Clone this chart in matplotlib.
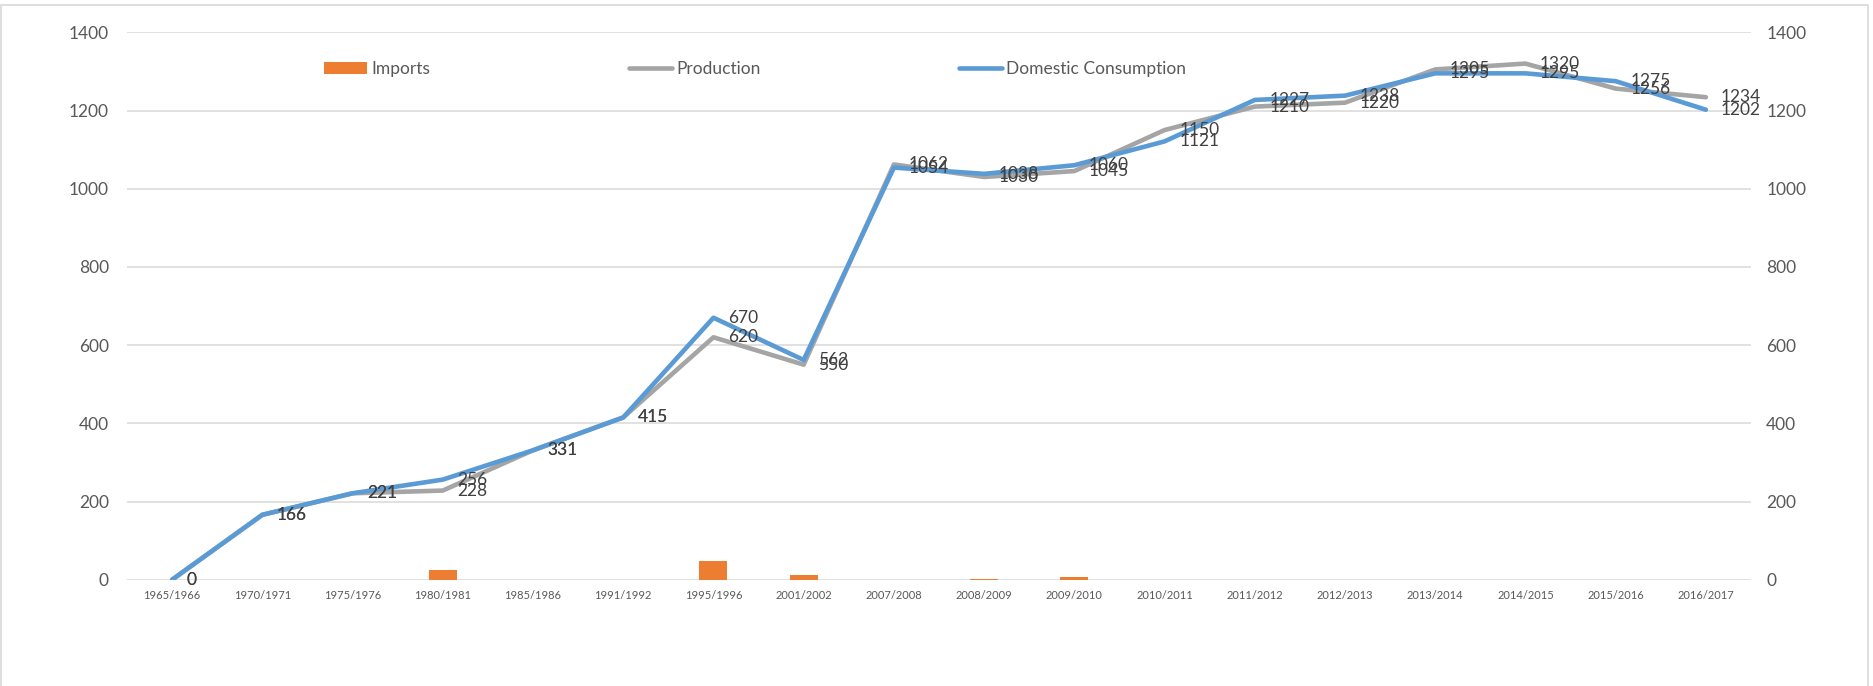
import matplotlib.pyplot as plt
from matplotlib.patches import Rectangle, Patch
from matplotlib.lines import Line2D

# Dados por safra
anos = ['1965/1966', '1970/1971', '1975/1976', '1980/1981', '1985/1986',
        '1991/1992', '1995/1996', '2001/2002', '2007/2008', '2008/2009',
        '2009/2010', '2010/2011', '2011/2012', '2012/2013', '2013/2014',
        '2014/2015', '2015/2016', '2016/2017']
importacao = [0, 0, 0, 26, 0, 0, 48, 11, 0, 3, 8, 0, 0, 0, 0, 0, 0, 0]
producao = [0, 166, 221, 228, 331, 415, 620, 550, 1062, 1030, 1045, 1150,
            1210, 1220, 1305, 1320, 1256, 1234]
consumo = [0, 166, 221, 256, 331, 415, 670, 562, 1054, 1038, 1060, 1121,
           1227, 1238, 1295, 1295, 1275, 1202]

cor_imp = '#ED7D31'
cor_prod = '#A5A5A5'
cor_cons = '#5B9BD5'
cor_grade = '#D9D9D9'
cor_eixo = '#595959'
cor_rotulo = '#404040'

plt.rcParams['font.family'] = ['Lato', 'DejaVu Sans']

W, H = 1874, 686
fig = plt.figure(figsize=(W / 100, H / 100), dpi=100)

# Moldura da área do gráfico
fig.patches.append(Rectangle((1 / W, -0.05), 1867 / W, 1.05 - 5 / H,
                             transform=fig.transFigure, fill=False,
                             edgecolor=cor_grade, linewidth=1.2))

ax = fig.add_axes([127 / W, 1 - 579.7 / H, 1624 / W, 547.4 / H])
x = list(range(len(anos)))

ax.bar(x, importacao, width=0.31, color=cor_imp, zorder=2)
ax.plot(x, producao, color=cor_prod, linewidth=3.3, zorder=3,
        solid_joinstyle='round', solid_capstyle='round')
ax.plot(x, consumo, color=cor_cons, linewidth=3.3, zorder=4,
        solid_joinstyle='round', solid_capstyle='round')

# Rótulos de dados à direita dos pontos
for serie in (producao, consumo):
    for i, v in enumerate(serie):
        ax.annotate(str(v), (i, v), xytext=(10.5, 0), textcoords='offset points',
                    ha='left', va='center', fontsize=12.5, color=cor_rotulo,
                    zorder=5)

ax.set_xlim(-0.5, len(anos) - 0.5)
ax.set_ylim(0, 1400)
ax.set_yticks(range(0, 1401, 200))
ax.set_xticks(x)
ax.set_xticklabels(anos, fontsize=8, color=cor_eixo)
ax.tick_params(axis='x', length=0, pad=7.5)
ax.tick_params(axis='y', length=0, pad=13, labelsize=12.5, labelcolor=cor_eixo)
ax.yaxis.grid(True, color=cor_grade, linewidth=1.1, zorder=0)
ax.set_axisbelow(True)
for s in ax.spines.values():
    s.set_visible(False)

ax2 = ax.twinx()
ax2.set_ylim(0, 1400)
ax2.set_yticks(range(0, 1401, 200))
ax2.tick_params(axis='y', length=0, pad=11, labelsize=12.5, labelcolor=cor_eixo)
for s in ax2.spines.values():
    s.set_visible(False)

handles = [
    Patch(facecolor=cor_imp, edgecolor='none'),
    Line2D([], [], color=cor_prod, linewidth=3.3, solid_capstyle='round'),
    Line2D([], [], color=cor_cons, linewidth=3.3, solid_capstyle='round'),
]
leg = fig.legend(handles, ['Imports', 'Production', 'Domestic Consumption'],
                 loc='center left', bbox_to_anchor=(324 / W, 1 - 69 / H),
                 ncol=3, frameon=False, fontsize=12.5, handlelength=2.5,
                 handleheight=0.62, handletextpad=0.25, columnspacing=11.4,
                 borderpad=0, borderaxespad=0)
for t in leg.get_texts():
    t.set_color(cor_eixo)

plt.savefig('out.png', dpi=100)
